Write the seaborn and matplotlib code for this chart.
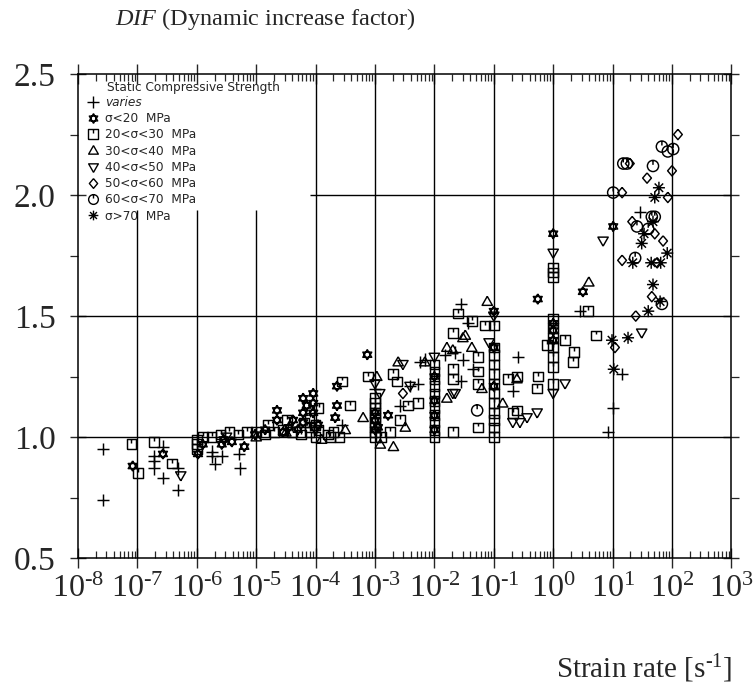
import numpy as np
import pandas as pd
import matplotlib
matplotlib.use("Agg")
import matplotlib.pyplot as plt
from matplotlib.path import Path
from matplotlib.lines import Line2D
from matplotlib.ticker import (FixedLocator, LogLocator, NullFormatter,
                               MultipleLocator, FuncFormatter)
import seaborn as sns

# ---- measured data: log10 of strain rate [1/s] and dynamic increase factor ----
varies_lograte = [-7.58, -7.58, -6.72, -6.72, -6.72, -6.57, -6.57, -6.32, -6.32,
                  -5.74, -5.74, -5.69, -5.58, -5.29, -5.27, -3.56, -3.00, -2.58,
                  -2.41, -2.28, -2.24, -2.16, -1.82, -1.65, -1.55, -1.55, -1.52,
                  -1.43, -1.35, -0.68, -0.59, 0.45, 0.92, 1.01, 1.16, 1.46]
varies_dif = [0.95, 0.74, 0.92, 0.90, 0.87, 0.96, 0.83, 0.87, 0.78,
              0.94, 0.92, 0.89, 0.92, 0.93, 0.87, 1.05, 1.20, 1.13,
              1.21, 1.22, 1.31, 1.32, 1.34, 1.35, 1.55, 1.23, 1.32,
              1.47, 1.28, 1.19, 1.33, 1.52, 1.02, 1.12, 1.26, 1.93]

lt20_lograte = [-7.08, -6.57, -5.98, -5.90, -5.58, -5.55, -5.41, -5.20, -5.02,
                -4.85, -4.65, -4.65, -4.55, -4.45, -4.38, -4.30, -4.21, -4.21,
                -4.21, -4.15, -4.04, -4.04, -4.04, -3.96, -3.67, -3.64, -3.64,
                -3.13, -3.00, -3.00, -3.00, -2.95, -2.78, -2.00, -2.00, -2.00,
                -2.00, -1.00, -1.00, -1.00, -0.26, 0.00, 0.00, 0.00, 0.00,
                0.50, 1.01]
lt20_dif = [0.88, 0.93, 0.93, 0.97, 0.97, 0.99, 0.98, 0.96, 1.01,
            1.03, 1.11, 1.07, 1.02, 1.04, 1.07, 1.03, 1.16, 1.10,
            1.06, 1.13, 1.18, 1.14, 1.10, 1.05, 1.08, 1.21, 1.13,
            1.34, 1.10, 1.03, 1.07, 1.04, 1.09, 1.25, 1.09, 1.15,
            1.03, 1.37, 1.21, 1.52, 1.57, 1.84, 1.47, 1.44, 1.40,
            1.60, 1.87]

s20_30_lograte = [-7.10, -6.99, -6.72, -6.42, -6.00, -6.00, -6.00, -5.90, -5.75,
                  -5.60, -5.45, -5.30, -5.15, -5.00, -4.85, -4.80, -4.70, -4.55,
                  -4.48, -4.40, -4.25, -4.20, -4.10, -4.10, -4.10, -4.00, -4.00,
                  -3.95, -3.95, -3.79, -3.75, -3.70, -3.60, -3.56, -3.42, -3.12,
                  -3.00, -3.00, -3.00, -3.00, -3.00, -3.00, -3.00, -3.00, -3.00,
                  -2.90, -2.75, -2.70, -2.63, -2.58, -2.44, -2.28,
                  -2.00, -2.00, -2.00, -2.00, -2.00, -2.00, -2.00, -2.00, -2.00,
                  -2.00, -2.00,
                  -1.69, -1.69, -1.69, -1.69, -1.60, -1.37, -1.27, -1.27, -1.27,
                  -1.27, -1.15, -0.76, -0.68, -0.61, -0.61, -0.27, -0.26, -0.10,
                  -1.00, -1.00, -1.00, -1.00, -1.00, -1.00, -1.00, -1.00, -1.00,
                  -1.00, -1.00, -1.00,
                  0.00, 0.00, 0.00, 0.00, 0.00, 0.00, 0.00, 0.00, 0.00, 0.00,
                  0.20, 0.33, 0.35, 0.59, 0.72]
s20_30_dif = [0.97, 0.85, 0.98, 0.89, 0.99, 0.97, 0.95, 1.00, 1.00,
              1.01, 1.02, 1.01, 1.02, 1.02, 1.01, 1.05, 1.02, 1.03,
              1.07, 1.02, 1.01, 1.06, 1.02, 1.04, 1.08, 1.00, 1.05,
              1.03, 1.12, 1.01, 1.00, 1.02, 1.00, 1.23, 1.13, 1.25,
              1.00, 1.02, 1.04, 1.06, 1.08, 1.10, 1.12, 1.14, 1.16,
              1.00, 1.02, 1.26, 1.23, 1.07, 1.13, 1.14,
              1.00, 1.03, 1.06, 1.09, 1.12, 1.15, 1.18, 1.21, 1.24,
              1.27, 1.30,
              1.43, 1.28, 1.24, 1.02, 1.51, 1.48, 1.33, 1.27, 1.22,
              1.04, 1.46, 1.24, 1.10, 1.25, 1.11, 1.20, 1.25, 1.38,
              1.00, 1.04, 1.07, 1.10, 1.14, 1.18, 1.22, 1.26, 1.30,
              1.34, 1.37, 1.46,
              1.66, 1.68, 1.70, 1.49, 1.45, 1.41, 1.37, 1.33, 1.29, 1.22,
              1.40, 1.31, 1.35, 1.52, 1.42]

s30_40_lograte = [-5.00, -4.50, -3.90, -3.50, -3.20, -2.97, -2.91, -2.69, -2.61,
                  -2.49, -2.16, -1.79, -1.79, -1.69, -1.52, -1.48, -1.37, -1.20,
                  -1.11, -0.85, -0.61, 0.60]
s30_40_dif = [1.00, 1.02, 0.99, 1.03, 1.08, 1.25, 0.97, 0.96, 1.31,
              1.04, 1.31, 1.37, 1.16, 1.36, 1.41, 1.42, 1.37, 1.20,
              1.56, 1.14, 1.24, 1.64]

s40_50_lograte = [-6.27, -5.50, -4.00, -3.00, -2.92, -2.53, -2.41, -2.00, -1.69,
                  -1.65, -1.08, -1.00, -0.68, -0.56, -0.44, -0.27, 0.00, 0.00,
                  0.20, 0.84, 1.49]
s40_50_dif = [0.84, 1.00, 1.03, 1.22, 1.18, 1.30, 1.21, 1.33, 1.18,
              1.18, 1.39, 1.50, 1.06, 1.06, 1.08, 1.10, 1.76, 1.18,
              1.22, 1.81, 1.43]

s50_60_lograte = [-2.53, 1.04, 1.16, 1.16, 1.29, 1.33, 1.39, 1.58, 1.66,
                  1.71, 1.75, 1.85, 1.93, 2.00, 2.10]
s50_60_dif = [1.18, 1.37, 2.01, 1.73, 2.13, 1.89, 1.50, 2.07, 1.58,
              1.84, 1.72, 1.81, 1.99, 2.10, 2.25]

s60_70_lograte = [-1.28, 1.01, 1.18, 1.24, 1.38, 1.41, 1.60, 1.66, 1.68,
                  1.71, 1.83, 1.83, 1.93, 2.02]
s60_70_dif = [1.11, 2.01, 2.13, 2.13, 1.74, 1.87, 1.86, 1.91, 2.12,
              1.91, 2.20, 1.55, 2.18, 2.19]

gt70_lograte = [0.99, 1.02, 1.26, 1.34, 1.49, 1.53, 1.60, 1.65, 1.68,
                1.68, 1.71, 1.78, 1.80, 1.81, 1.92]
gt70_dif = [1.40, 1.28, 1.41, 1.72, 1.80, 1.84, 1.52, 1.72, 1.63,
            1.89, 1.99, 2.03, 1.56, 1.72, 1.76]

legend_title = "Static Compressive Strength"
series_labels = ["varies", "σ<20  MPa", "20<σ<30  MPa", "30<σ<40  MPa",
                 "40<σ<50  MPa", "50<σ<60  MPa", "60<σ<70  MPa", "σ>70  MPa"]
x_ticks_exp = list(range(-8, 4))
y_ticks = [0.5, 1.0, 1.5, 2.0, 2.5]

# ---- plotting symbols ----
M, L = Path.MOVETO, Path.LINETO
r3 = np.sqrt(3) / 2
plus = Path([(-1, 0), (1, 0), (0, -1), (0, 1)], [M, L, M, L])
hexagram = Path([(0, 1), (-r3, -0.5), (r3, -0.5), (0, 1),
                 (0, -1), (-r3, 0.5), (r3, 0.5), (0, -1)],
                [M, L, L, L, M, L, L, L])
tick_square = Path([(-1, -1), (1, -1), (1, 1), (-1, 1), (-1, -1), (0, 1), (0, 0.2)],
                   [M, L, L, L, L, M, L])
tri_up = Path([(0, 1), (-1, -0.75), (1, -0.75), (0, 1)], [M, L, L, L])
tri_down = Path([(0, -1), (-1, 0.75), (1, 0.75), (0, -1)], [M, L, L, L])
diamond = Path([(0, 1), (-0.85, 0), (0, -1), (0.85, 0), (0, 1)], [M, L, L, L, L])
tick_circle = Path.make_compound_path(Path.unit_circle(),
                                      Path([(0, 1), (0, 0.2)], [M, L]))
c45 = np.sqrt(0.5)
asterisk = Path([(-1, 0), (1, 0), (0, -1), (0, 1),
                 (-c45, -c45), (c45, c45), (-c45, c45), (c45, -c45)],
                [M, L, M, L, M, L, M, L])

series = [
    (varies_lograte, varies_dif, plus, 80),
    (lt20_lograte, lt20_dif, hexagram, 55),
    (s20_30_lograte, s20_30_dif, tick_square, 48),
    (s30_40_lograte, s30_40_dif, tri_up, 55),
    (s40_50_lograte, s40_50_dif, tri_down, 55),
    (s50_60_lograte, s50_60_dif, diamond, 55),
    (s60_70_lograte, s60_70_dif, tick_circle, 65),
    (gt70_lograte, gt70_dif, asterisk, 75),
]

# ---- style ----
sns.set_style("ticks")
plt.rcParams.update({
    "font.family": ["Liberation Serif", "DejaVu Serif"],
    "mathtext.fontset": "custom",
    "mathtext.rm": "Liberation Serif",
    "mathtext.it": "Liberation Serif:italic",
    "mathtext.bf": "Liberation Serif:bold",
    "axes.linewidth": 1.1,
    "axes.edgecolor": "black",
})

fig = plt.figure(figsize=(7.53, 6.93), dpi=100)
ax = fig.add_axes([0.1036, 0.1948, 0.8677, 0.6984])
ax.set_xscale("log")
ax.set_xlim(1e-8, 1e3)
ax.set_ylim(0.5, 2.5)

# grid, left clear where the key sits
gkw = dict(color="black", lw=1.0, zorder=1, solid_capstyle="butt")
for e in range(-7, 3):
    ax.plot([10.0 ** e] * 2, [0.5, 1.94 if e < -4 else 2.5], **gkw)
ax.plot([10 ** -4.1, 1e3], [2.0, 2.0], **gkw)
for yv in (1.0, 1.5):
    ax.plot([1e-8, 1e3], [yv, yv], **gkw)

for lr, dif, mk, size in series:
    df = pd.DataFrame({"rate": 10.0 ** np.asarray(lr), "dif": dif})
    sns.scatterplot(data=df, x="rate", y="dif", marker=mk, s=size,
                    color="black", facecolor="none", edgecolor="black",
                    linewidth=1.05, legend=False, ax=ax, zorder=3)

ax.set_xlabel("")
ax.set_ylabel("")

# ticks
hy = "\u2010"
ax.xaxis.set_major_locator(FixedLocator([10.0 ** e for e in x_ticks_exp]))
ax.xaxis.set_minor_locator(LogLocator(base=10, subs=np.arange(2, 10), numticks=100))
ax.xaxis.set_minor_formatter(NullFormatter())
ax.set_xticklabels([r"$10^{%s%d}$" % (hy if e < 0 else "", abs(e)) for e in x_ticks_exp])
ax.yaxis.set_major_locator(FixedLocator(y_ticks))
ax.yaxis.set_minor_locator(MultipleLocator(0.25))
ax.yaxis.set_major_formatter(FuncFormatter(lambda v, p: f"{v:.1f}"))

ax.tick_params(axis="x", which="major", direction="inout", length=14, width=1.0,
               top=True, bottom=True, labelsize=23, pad=5)
ax.tick_params(axis="x", which="minor", direction="in", length=5, width=0.9,
               top=True, bottom=True)
ax.tick_params(axis="y", which="major", direction="inout", length=12, width=1.0,
               left=True, right=True, labelsize=24, pad=10)
ax.tick_params(axis="y", which="minor", direction="out", length=6, width=0.9,
               left=True, right=True)
for s in ax.spines.values():
    s.set_zorder(4)

# key
handles = [Line2D([], [], ls="none", marker=mk, ms=7 if mk is not plus else 8,
                  mfc="none", mec="black", mew=1.0) for _, _, mk, _ in series]
leg = ax.legend(handles, series_labels, loc="upper left",
                bbox_to_anchor=(0.013, 0.955), frameon=False,
                prop={"family": "DejaVu Sans", "size": 8.7},
                handlelength=1.1, handletextpad=0.4, labelspacing=0.27,
                borderaxespad=0, borderpad=0)
leg.get_texts()[0].set_style("italic")
ax.text(0.044, 0.972, legend_title, transform=ax.transAxes, ha="left", va="center",
        fontsize=8.7, family="DejaVu Sans")

# titles
fig.text(0.153, 0.972, r"$\mathit{DIF}$ (Dynamic increase factor)", fontsize=17.5,
         ha="left", va="center")
fig.text(0.973, 0.022, r"Strain rate [s$^{\mathregular{%s1}}$]" % hy, fontsize=21,
         ha="right", va="baseline")

fig.savefig("out.png", dpi=100)
